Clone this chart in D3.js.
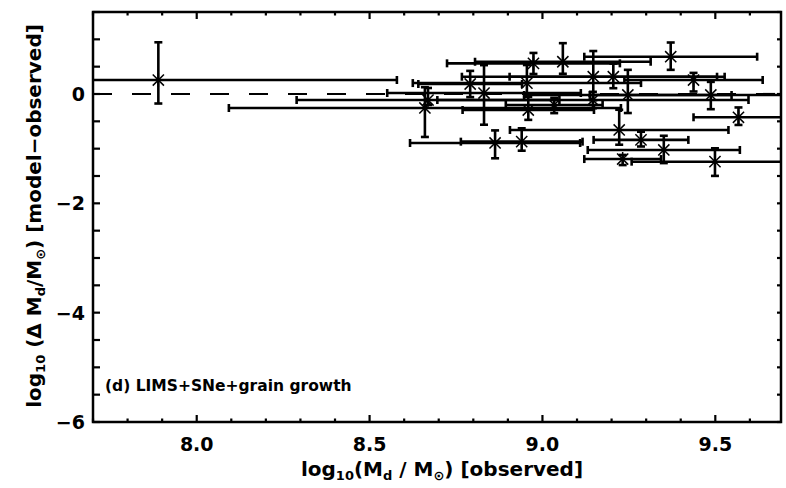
<!DOCTYPE html>
<html>
<head>
<meta charset="utf-8">
<script src="https://cdn.jsdelivr.net/npm/d3@7"></script>
<style>
  body { margin: 0; background: #fff; }
  text { font-family: "DejaVu Sans", sans-serif; font-weight: bold; fill: #000; }
</style>
</head>
<body>
<svg id="chart" width="786" height="488"></svg>
<script>
// observed dust mass and model-observed difference (log10)
var logMdObs = [7.889, 8.669, 8.660, 8.791, 8.831, 8.863, 8.940, 8.955, 8.959, 8.974,
                9.034, 9.059, 9.147, 9.146, 9.205, 9.222, 9.232, 9.247, 9.285, 9.351,
                9.371, 9.437, 9.487, 9.567, 9.499];
var dLogMd   = [0.256, -0.11, -0.256, 0.183, 0.018, -0.896, -0.872, 0.20, -0.293, 0.561,
                -0.20, 0.59, 0.316, -0.11, 0.316, -0.658, -1.19, -0.018, -0.84, -1.024,
                0.682, 0.256, -0.018, -0.426, -1.238];
var xErr     = [0.69, 0.38, 0.567, 0.15, 0.28, 0.246, 0.176, 0.33, 0.19, 0.25,
                0.14, 0.254, 0.38, 0.45, 0.3, 0.316, 0.111, 0.3, 0.137, 0.22,
                0.25, 0.2, 0.35, 0.13, 0.241];
var yErrLo   = [0.43, 0.09, 0.53, 0.24, 0.58, 0.28, 0.165, 0.25, 0.18, 0.195,
                0.15, 0.22, 0.43, 0.15, 0.21, 0.27, 0.11, 0.33, 0.12, 0.24,
                0.24, 0.21, 0.26, 0.14, 0.26];
var yErrHi   = [0.69, 0.22, 0.38, 0.24, 0.51, 0.23, 0.245, 0.33, 0.24, 0.19,
                0.13, 0.34, 0.47, 0.15, 0.24, 0.37, 0.075, 0.46, 0.15, 0.26,
                0.26, 0.13, 0.24, 0.18, 0.245];

var xTicks = [8.0, 8.5, 9.0, 9.5];
var yTicks = [0, -2, -4, -6];
var panelLabel = '(d) LIMS+SNe+grain growth';

var pts = logMdObs.map(function(d, i) {
    return {x: d, y: dLogMd[i], xe: xErr[i], lo: yErrLo[i], hi: yErrHi[i]};
});

// plot box in pixels (named so they don't clash with window.top)
var pL = 93, pR = 781, pT = 12, pB = 422;

var x = d3.scaleLinear().domain([7.7, 9.69]).range([pL, pR]);
var y = d3.scaleLinear().domain([-6, 1.5]).range([pB, pT]);

var svg = d3.select('#chart');

svg.append('defs').append('clipPath').attr('id', 'plotclip')
  .append('rect')
    .attr('x', pL).attr('y', pT)
    .attr('width', pR - pL).attr('height', pB - pT);

var plot = svg.append('g').attr('clip-path', 'url(#plotclip)');

// zero line
plot.append('line')
    .attr('x1', pL).attr('x2', pR)
    .attr('y1', y(0)).attr('y2', y(0))
    .style('stroke', '#000').style('stroke-width', 2.2)
    .style('stroke-dasharray', '19,20');

var sw = 2.6, cap = 4, star = 7;

var g = plot.selectAll('.pt').data(pts).enter()
  .append('g').classed('pt', true);

// horizontal error bars + caps
g.append('line')
    .attr('x1', function(d) { return x(d.x - d.xe); })
    .attr('x2', function(d) { return x(d.x + d.xe); })
    .attr('y1', function(d) { return y(d.y); })
    .attr('y2', function(d) { return y(d.y); });
g.append('line')
    .attr('x1', function(d) { return x(d.x - d.xe); })
    .attr('x2', function(d) { return x(d.x - d.xe); })
    .attr('y1', function(d) { return y(d.y) - cap; })
    .attr('y2', function(d) { return y(d.y) + cap; });
g.append('line')
    .attr('x1', function(d) { return x(d.x + d.xe); })
    .attr('x2', function(d) { return x(d.x + d.xe); })
    .attr('y1', function(d) { return y(d.y) - cap; })
    .attr('y2', function(d) { return y(d.y) + cap; });

// vertical error bars + caps
g.append('line')
    .attr('x1', function(d) { return x(d.x); })
    .attr('x2', function(d) { return x(d.x); })
    .attr('y1', function(d) { return y(d.y + d.hi); })
    .attr('y2', function(d) { return y(d.y - d.lo); });
g.append('line')
    .attr('x1', function(d) { return x(d.x) - cap; })
    .attr('x2', function(d) { return x(d.x) + cap; })
    .attr('y1', function(d) { return y(d.y + d.hi); })
    .attr('y2', function(d) { return y(d.y + d.hi); });
g.append('line')
    .attr('x1', function(d) { return x(d.x) - cap; })
    .attr('x2', function(d) { return x(d.x) + cap; })
    .attr('y1', function(d) { return y(d.y - d.lo); })
    .attr('y2', function(d) { return y(d.y - d.lo); });

g.selectAll('line').style('stroke', '#000').style('stroke-width', sw);

// asterisk markers
g.append('path')
    .attr('d', function(d) {
        var cx = x(d.x), cy = y(d.y), s = star, k = star * 0.8;
        return 'M' + (cx - s) + ',' + cy + 'H' + (cx + s) +
               'M' + cx + ',' + (cy - s) + 'V' + (cy + s) +
               'M' + (cx - k) + ',' + (cy - k) + 'L' + (cx + k) + ',' + (cy + k) +
               'M' + (cx - k) + ',' + (cy + k) + 'L' + (cx + k) + ',' + (cy - k);
    })
    .style('stroke', '#000').style('stroke-width', 1.5).style('fill', 'none');

// frame
svg.append('rect')
    .attr('x', pL).attr('y', pT)
    .attr('width', pR - pL).attr('height', pB - pT)
    .style('fill', 'none').style('stroke', '#000').style('stroke-width', 2.5);

// ticks
var xMinor = d3.range(7.7, 9.691, 0.1);
var yMinor = d3.range(-6, 1.501, 0.5);
var tk = svg.append('g').style('stroke', '#000').style('stroke-width', 2.2);

xMinor.forEach(function(v) {
    var major = xTicks.some(function(t) { return Math.abs(t - v) < 1e-6; });
    var len = major ? 7 : 3.5;
    tk.append('line').attr('x1', x(v)).attr('x2', x(v)).attr('y1', pB).attr('y2', pB - len);
    tk.append('line').attr('x1', x(v)).attr('x2', x(v)).attr('y1', pT).attr('y2', pT + len);
});
yMinor.forEach(function(v) {
    tk.append('line').attr('x1', pL).attr('x2', pL + 7).attr('y1', y(v)).attr('y2', y(v));
    tk.append('line').attr('x1', pR).attr('x2', pR - 4).attr('y1', y(v)).attr('y2', y(v));
});

// tick labels
svg.selectAll('.xlab').data(xTicks).enter()
  .append('text').classed('xlab', true)
    .attr('x', function(d) { return x(d); })
    .attr('y', 451)
    .attr('text-anchor', 'middle')
    .style('font-size', '19px')
    .text(function(d) { return d.toFixed(1); });

svg.selectAll('.ylab').data(yTicks).enter()
  .append('text').classed('ylab', true)
    .attr('x', 85)
    .attr('y', function(d) { return y(d) + 7; })
    .attr('text-anchor', 'end')
    .style('font-size', '19px')
    .text(function(d) { return d < 0 ? '\u2212' + (-d) : d; });

// axis titles
var xt = svg.append('text')
    .attr('x', 442).attr('y', 476)
    .attr('text-anchor', 'middle')
    .style('font-size', '20px');
xt.append('tspan').text('log');
xt.append('tspan').attr('dy', 4).style('font-size', '13px').text('10');
xt.append('tspan').attr('dy', -4).text('(M');
xt.append('tspan').attr('dy', 4).style('font-size', '13px').text('d');
xt.append('tspan').attr('dy', -4).text(' / M');
xt.append('tspan').attr('dy', 4).style('font-size', '13px').text('\u2299');
xt.append('tspan').attr('dy', -4).text(') [observed]');

var yt = svg.append('text')
    .attr('transform', 'translate(41,216) rotate(-90)')
    .attr('text-anchor', 'middle')
    .style('font-size', '20px');
yt.append('tspan').text('log');
yt.append('tspan').attr('dy', 4).style('font-size', '13px').text('10');
yt.append('tspan').attr('dy', -4).text(' (\u0394 M');
yt.append('tspan').attr('dy', 4).style('font-size', '13px').text('d');
yt.append('tspan').attr('dy', -4).text('/M');
yt.append('tspan').attr('dy', 4).style('font-size', '13px').text('\u2299');
yt.append('tspan').attr('dy', -4).text(') [model\u2212observed]');

svg.append('text')
    .attr('x', 105).attr('y', 391)
    .style('font-size', '15.5px')
    .text(panelLabel);
</script>
</body>
</html>
